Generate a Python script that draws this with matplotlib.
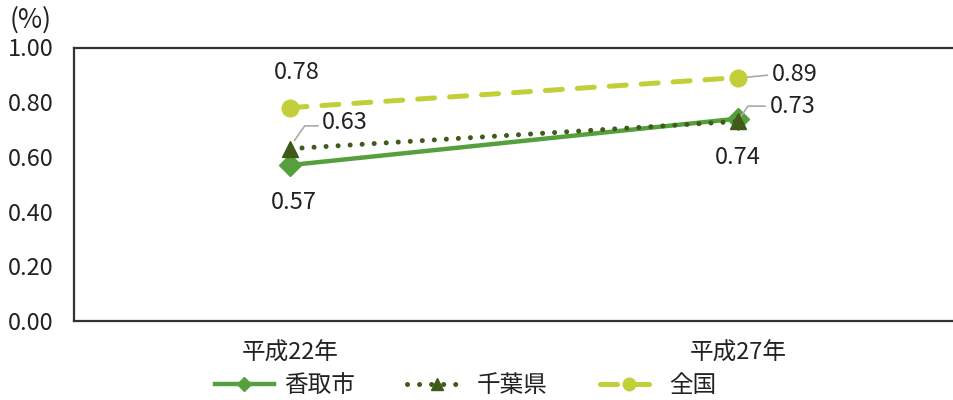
import matplotlib
matplotlib.use('Agg')
import matplotlib.pyplot as plt
from matplotlib.lines import Line2D

plt.rcParams['font.family'] = ['Noto Sans CJK JP', 'DejaVu Sans']

# data
years = ['平成22年', '平成27年']
katori = [0.57, 0.74]
chiba = [0.63, 0.73]
zenkoku = [0.78, 0.89]
names = ['香取市', '千葉県', '全国']

c_katori = '#55a03c'
c_chiba = '#3f5a1a'
c_zenkoku = '#c3cf38'
c_lead = '#aaaaaa'
c_txt = '#222222'
fs = 17

fig = plt.figure(figsize=(9.54, 4.0), dpi=100)
ax = fig.add_axes([74/954, 79/400, 880/954, 273.5/400])

x = range(len(years))
ax.plot(x, katori, color=c_katori, lw=3.2, marker='D', ms=11, zorder=3)
ax.plot(x, chiba, color=c_chiba, lw=3.6, dashes=(0.01, 2.4),
        dash_capstyle='round', marker='^', ms=12, zorder=4)
ax.plot(x, zenkoku, color=c_zenkoku, lw=3.6, dashes=(3.4, 3.0),
        dash_capstyle='round', marker='o', ms=12, zorder=5)

ax.set_xlim(-0.482, 1.482)
ax.set_ylim(0, 1.0)
ax.set_yticks([0, 0.2, 0.4, 0.6, 0.8, 1.0])
ax.set_yticklabels(['%.2f' % v for v in [0, 0.2, 0.4, 0.6, 0.8, 1.0]])
ax.set_xticks(list(x))
ax.set_xticklabels(years)
ax.tick_params(axis='both', length=0, labelsize=fs, colors=c_txt)
ax.tick_params(axis='y', pad=15)
ax.tick_params(axis='x', pad=15)

for s in ['top', 'bottom', 'left']:
    ax.spines[s].set_color('#333333')
    ax.spines[s].set_linewidth(1.6)
ax.spines['right'].set_visible(False)

fig.text(10/954, 1 - 20/400, '(%)', fontsize=19, color=c_txt, va='center')

# data labels
ax.annotate('%.2f' % zenkoku[0], (0, zenkoku[0]), xytext=(5, 25),
            textcoords='offset points', ha='center', va='center',
            fontsize=fs, color=c_txt)
ax.annotate('%.2f' % katori[0], (0, katori[0]), xytext=(3, -27),
            textcoords='offset points', ha='center', va='center',
            fontsize=fs, color=c_txt)
ax.annotate('%.2f' % katori[1], (1, katori[1]), xytext=(0, -28),
            textcoords='offset points', ha='center', va='center',
            fontsize=fs, color=c_txt)

lead = dict(arrowstyle='-', color=c_lead, lw=1.2, shrinkA=1, shrinkB=0,
            connectionstyle='angle,angleA=0,angleB=55,rad=0')
ax.annotate('%.2f' % chiba[0], (0.01, chiba[0] + 0.03), xytext=(20, 13),
            textcoords='offset points', ha='left', va='center',
            fontsize=fs, color=c_txt,
            arrowprops=dict(lead, relpos=(0, 0.35)))
ax.annotate('%.2f' % chiba[1], (1.005, chiba[1] + 0.015), xytext=(21, 8),
            textcoords='offset points', ha='left', va='center',
            fontsize=fs, color=c_txt,
            arrowprops=dict(lead, relpos=(0, 0.5)))
ax.annotate('%.2f' % zenkoku[1], (1.01, zenkoku[1]), xytext=(21, 2),
            textcoords='offset points', ha='left', va='center',
            fontsize=fs, color=c_txt,
            arrowprops=dict(lead, relpos=(0, 0.5),
                            connectionstyle='arc3,rad=0'))

# legend with smaller markers
handles = [
    Line2D([], [], color=c_katori, lw=3.2, marker='D', ms=7),
    Line2D([], [], color=c_chiba, lw=3.6, dashes=(0.01, 2.4),
           dash_capstyle='round', marker='^', ms=9),
    Line2D([], [], color=c_zenkoku, lw=3.6, dashes=(3.4, 3.0),
           dash_capstyle='round', marker='o', ms=9),
]
leg = fig.legend(handles, names, loc='center',
                 bbox_to_anchor=(0.488, 1 - 386/400), ncol=3,
                 frameon=False, fontsize=fs, handlelength=2.5,
                 columnspacing=2.2, handletextpad=0.45)
for t in leg.get_texts():
    t.set_color(c_txt)

fig.savefig('out.png', dpi=100)
